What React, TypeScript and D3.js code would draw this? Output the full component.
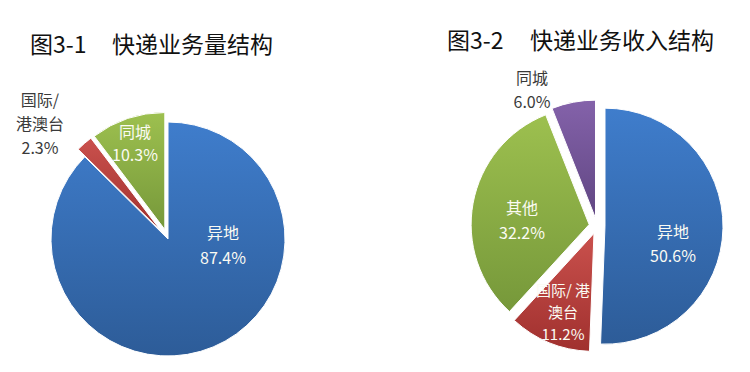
import React from 'react';
import * as d3 from 'd3';

// ---- data ----
const volumeCategories = ['异地', '国际/港澳台', '同城'];
const volumeValues = [87.4, 2.3, 10.3];
const volumeLabelLines = [['异地'], ['国际/', '港澳台'], ['同城']];

const revenueCategories = ['异地', '国际/港澳台', '其他', '同城'];
const revenueValues = [50.6, 11.2, 32.2, 6.0];
const revenueLabelLines = [['异地'], ['国际/ 港', '澳台'], ['其他'], ['同城']];

const chartTitles = [
  ['图3-1', '快递业务量结构'],
  ['图3-2', '快递业务收入结构'],
];

// ---- styles / layout ----
const palette: Record<string, [string, string]> = {
  '异地': ['#3F7DCC', '#2D5C98'],
  '国际/港澳台': ['#CA514D', '#A0302E'],
  '同城_v': ['#9DC04F', '#76983A'],
  '其他': ['#9DC04F', '#76983A'],
  '同城_r': ['#8462AA', '#604682'],
};

type Layout = {
  cx: number; cy: number; r: number; explode: number[];
  labels: { x: number; ys: number[]; dark: boolean; size: number }[];
  titleX: [number, number]; titleY: number;
  colors: string[];
};

const layouts: Layout[] = [
  {
    cx: 168, cy: 239, r: 117, explode: [0, 10, 10],
    labels: [
      { x: 223, ys: [233, 258], dark: false, size: 16 },
      { x: 40, ys: [100, 124, 148], dark: true, size: 16 },
      { x: 135, ys: [132, 155], dark: false, size: 16 },
    ],
    titleX: [30, 112], titleY: 53,
    colors: ['异地', '国际/港澳台', '同城_v'],
  },
  {
    cx: 597, cy: 226, r: 118, explode: [8, 8, 8, 8],
    labels: [
      { x: 673, ys: [232, 256], dark: false, size: 16 },
      { x: 563, ys: [291, 313, 335], dark: false, size: 15 },
      { x: 522, ys: [208, 233], dark: false, size: 16 },
      { x: 532, ys: [78, 102], dark: true, size: 16 },
    ],
    titleX: [447, 530], titleY: 49,
    colors: ['异地', '国际/港澳台', '其他', '同城_r'],
  },
];

const FONT = '"Noto Sans CJK SC", "Noto Sans", sans-serif';

function Pie({ idx, categories, values, labelLines }: { idx: number; categories: string[]; values: number[]; labelLines: string[][] }) {
  const L = layouts[idx];
  const pie = d3.pie<number>().sort(null).value((d) => d)(values);
  const arc = d3.arc<d3.PieArcDatum<number>>().innerRadius(0).outerRadius(L.r);
  return (
    <g>
      <defs>
        {L.colors.map((c, i) => (
          <linearGradient key={i} id={`g${idx}_${i}`} x1="0" y1="0" x2="0" y2="1">
            <stop offset="0" stopColor={palette[c][0]} />
            <stop offset="1" stopColor={palette[c][1]} />
          </linearGradient>
        ))}
      </defs>
      {pie.map((p, i) => {
        const mid = (p.startAngle + p.endAngle) / 2;
        const e = L.explode[i];
        const dx = Math.sin(mid) * e;
        const dy = -Math.cos(mid) * e;
        return (
          <path
            key={categories[i]}
            d={arc(p) || ''}
            transform={`translate(${L.cx + dx},${L.cy + dy})`}
            fill={`url(#g${idx}_${i})`}
            stroke="#ffffff"
            strokeWidth={1}
          />
        );
      })}
      {pie.map((p, i) => {
        const lab = L.labels[i];
        const lines = [...labelLines[i], `${values[i].toFixed(1)}%`];
        return (
          <g key={'l' + i}>
            {lines.map((t, j) => (
              <text
                key={j}
                x={lab.x}
                y={lab.ys[j]}
                dy="0.36em"
                textAnchor="middle"
                fontFamily={FONT}
                fontSize={lab.size}
                fill={lab.dark ? '#3a3a3a' : '#fbfbf3'}
              >
                {t}
              </text>
            ))}
          </g>
        );
      })}
      <text y={L.titleY} fontFamily={FONT} fontSize={23} fill="#111">
        <tspan x={L.titleX[0]}>{chartTitles[idx][0]}</tspan>
        <tspan x={L.titleX[1]}>{chartTitles[idx][1]}</tspan>
      </text>
    </g>
  );
}

export default function App() {
  return (
    <svg
      width={750}
      height={372}
      viewBox="0 0 750 372"
      style={{ position: 'absolute', left: 0, top: 0, background: '#fff' }}
    >
      <rect width={750} height={372} fill="#fff" />
      <Pie idx={0} categories={volumeCategories} values={volumeValues} labelLines={volumeLabelLines} />
      <Pie idx={1} categories={revenueCategories} values={revenueValues} labelLines={revenueLabelLines} />
    </svg>
  );
}
